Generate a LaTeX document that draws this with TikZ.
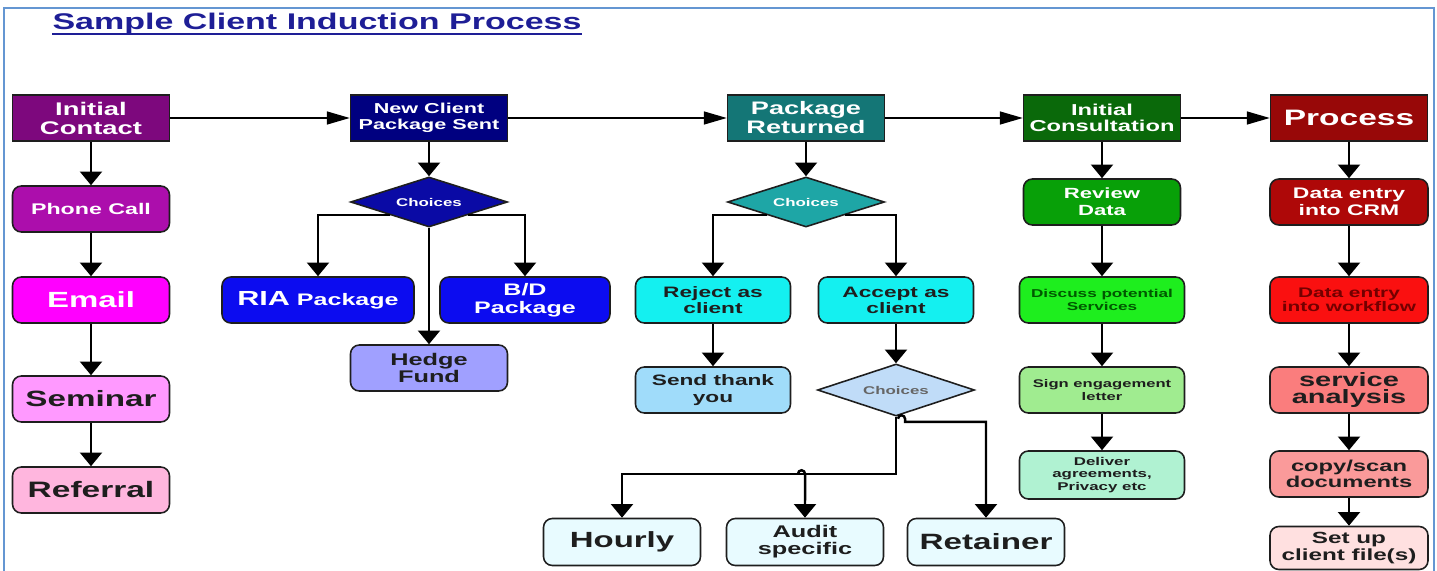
\documentclass[tikz,border=0pt]{standalone}
\usepackage{fontspec}
\setmainfont[FakeStretch=1.5]{Liberation Sans}
\usepackage{tikz}
\usetikzlibrary{arrows.meta, positioning, calc, shapes.geometric}

\definecolor{edge}{RGB}{30,30,30}
\definecolor{titleblue}{RGB}{30,30,150}
\definecolor{frameblue}{RGB}{100,150,210}
\definecolor{icfill}{RGB}{125,8,125}
\definecolor{phonefill}{RGB}{172,14,172}
\definecolor{emailfill}{RGB}{255,0,255}
\definecolor{semfill}{RGB}{255,153,255}
\definecolor{reffill}{RGB}{255,182,222}
\definecolor{ncpfill}{RGB}{0,0,128}
\definecolor{chAfill}{RGB}{10,10,165}
\definecolor{pkgfill}{RGB}{12,12,240}
\definecolor{hedgefill}{RGB}{160,160,255}
\definecolor{prfill}{RGB}{20,118,118}
\definecolor{chBfill}{RGB}{30,166,166}
\definecolor{cyanfill}{RGB}{20,240,240}
\definecolor{thankfill}{RGB}{160,220,250}
\definecolor{chCfill}{RGB}{192,220,248}
\definecolor{feefill}{RGB}{232,251,255}
\definecolor{consfill}{RGB}{10,105,10}
\definecolor{revfill}{RGB}{8,160,8}
\definecolor{discfill}{RGB}{30,238,30}
\definecolor{signfill}{RGB}{160,236,144}
\definecolor{delivfill}{RGB}{176,242,210}
\definecolor{procfill}{RGB}{152,8,8}
\definecolor{crmfill}{RGB}{174,8,8}
\definecolor{wffill}{RGB}{250,16,16}
\definecolor{svcfill}{RGB}{250,125,125}
\definecolor{copyfill}{RGB}{250,154,154}
\definecolor{setupfill}{RGB}{255,224,224}
\definecolor{darktxt}{RGB}{30,30,30}

\newcommand{\fsz}[2]{\fontsize{#1}{#2}\selectfont\bfseries}

\tikzset{
  hdr/.style={draw=edge, line width=0.9pt, inner sep=0pt, align=center, text=white,
    minimum width=3.14cm, minimum height=0.92cm},
  rbox/.style={hdr, rounded corners=5pt},
  choice/.style={diamond, draw=edge, line width=0.9pt, inner sep=0pt, aspect=3,
    minimum width=3.14cm, minimum height=1.0cm, font=\fsz{6.4}{7}, text=white},
  varr/.style={line width=1.4pt, -{Triangle[width=12.5pt,length=7.8pt]}},
  harr/.style={line width=0.75pt, -{Triangle[width=7.4pt,length=13pt]}},
}

\begin{document}
\begin{tikzpicture}[x=0.02cm, y=-0.02cm]
\useasboundingbox (0,0) rectangle (1437,571);
\draw[frameblue, line width=1.6pt] (4,600) -- (4,8) -- (1434,8) -- (1434,600);

\node[font=\fsz{12.9}{14}, text=titleblue, inner sep=0pt] (title) at (317,24) {Sample Client Induction Process};
\draw[titleblue, line width=1.1pt] ([yshift=-2.2pt]title.base west) -- ([yshift=-2.2pt]title.base east);

% column 1
\node[hdr, fill=icfill, font=\fsz{10.4}{10.8}] (ic) at (91,118) {Initial\\Contact};
\node[rbox, fill=phonefill, font=\fsz{8.8}{10}] (phone) at (91,209) {Phone Call};
\node[rbox, fill=emailfill, font=\fsz{12.5}{13}] (email) at (91,300) {Email};
\node[rbox, fill=semfill, text=darktxt, font=\fsz{12.6}{13}] (sem) at (91,399) {Seminar};
\node[rbox, fill=reffill, text=darktxt, font=\fsz{12.7}{13}] (ref) at (91,490) {Referral};

% column 2
\node[hdr, fill=ncpfill, font=\fsz{8.2}{9}] (ncp) at (429,118) {New Client\\Package Sent};
\node[choice, fill=chAfill] (chA) at (429,202) {Choices};
\node[rbox, fill=pkgfill, minimum width=3.84cm, font=\fsz{9.5}{10}] (ria) at (318,300) {{\fontsize{11.6}{12}\selectfont RIA} Package};
\node[rbox, fill=pkgfill, minimum width=3.4cm, font=\fsz{9.5}{10.2}] (bd) at (525,300) {B/D\\Package};
\node[rbox, fill=hedgefill, text=darktxt, font=\fsz{9.6}{10.2}] (hedge) at (429,368) {Hedge\\Fund};

% column 3
\node[hdr, fill=prfill, font=\fsz{10.3}{10.8}] (pr) at (806,118) {Package\\Returned};
\node[choice, fill=chBfill] (chB) at (806,202) {Choices};
\node[rbox, fill=cyanfill, text=darktxt, minimum width=3.1cm, font=\fsz{8.6}{9.2}] (rej) at (713,300) {Reject as\\client};
\node[rbox, fill=cyanfill, text=darktxt, minimum width=3.1cm, font=\fsz{8.6}{9.2}] (acc) at (896,300) {Accept as\\client};
\node[rbox, fill=thankfill, text=darktxt, minimum width=3.1cm, font=\fsz{8.6}{9.6}] (thank) at (713,390) {Send thank\\you};
\node[choice, fill=chCfill, text=gray!80!black, minimum height=1.04cm] (chC) at (896,390) {Choices};
\node[rbox, fill=feefill, text=darktxt, minimum height=0.94cm, font=\fsz{12.5}{13}] (hour) at (622,542) {Hourly};
\node[rbox, fill=feefill, text=darktxt, minimum height=0.94cm, font=\fsz{9.6}{9.6}] (aud) at (805,542) {Audit\\specific};
\node[rbox, fill=feefill, text=darktxt, minimum height=0.94cm, font=\fsz{12.6}{13}] (ret) at (986,542) {Retainer};

% column 4
\node[hdr, fill=consfill, font=\fsz{9}{9}] (cons) at (1102,118) {Initial\\Consultation};
\node[rbox, fill=revfill, font=\fsz{8.4}{9.6}] (rev) at (1102,202) {Review\\Data};
\node[rbox, fill=discfill, text=green!35!black, minimum width=3.3cm, font=\fsz{6.5}{7.4}] (disc) at (1102,300) {Discuss potential\\Services};
\node[rbox, fill=signfill, text=darktxt, minimum width=3.3cm, font=\fsz{6.3}{7.4}] (sign) at (1102,390) {Sign engagement\\letter};
\node[rbox, fill=delivfill, text=darktxt, minimum width=3.3cm, minimum height=0.96cm, font=\fsz{6.4}{7.1}] (deliv) at (1102,475) {Deliver\\agreements,\\Privacy etc};

% column 5
\node[hdr, fill=procfill, font=\fsz{12.7}{13}] (proc) at (1349,118) {Process};
\node[rbox, fill=crmfill, minimum width=3.16cm, font=\fsz{8.7}{9.6}] (crm) at (1349,202) {Data entry\\into CRM};
\node[rbox, fill=wffill, text=red!45!black, minimum width=3.16cm, font=\fsz{7.9}{8}] (wf) at (1349,300) {Data entry\\into workflow};
\node[rbox, fill=svcfill, text=darktxt, minimum width=3.16cm, font=\fsz{11}{9.6}] (svc) at (1349,390) {service\\analysis};
\node[rbox, fill=copyfill, text=darktxt, minimum width=3.16cm, font=\fsz{9}{9}] (copy) at (1349,474) {copy/scan\\documents};
\node[rbox, fill=setupfill, text=darktxt, minimum width=3.16cm, minimum height=0.86cm, font=\fsz{9.2}{9.6}] (setup) at (1349,548) {Set up\\client file(s)};

% main flow
\draw[harr] (ic) -- (ncp);
\draw[harr] (ncp) -- (pr);
\draw[harr] (pr) -- (cons);
\draw[harr] (cons) -- (proc);

\draw[varr] (ic) -- (phone);
\draw[varr] (phone) -- (email);
\draw[varr] (email) -- (sem);
\draw[varr] (sem) -- (ref);

\draw[varr] (ncp) -- (chA);
\draw[varr] (chA.199) -| (ria.north);
\draw[varr] (chA.-19) -| (bd.north);
\draw[varr] (chA) -- (hedge);

\draw[varr] (pr) -- (chB);
\draw[varr] (chB.199) -| (rej.north);
\draw[varr] (chB.-19) -| (acc.north);
\draw[varr] (rej) -- (thank);
\draw[varr] (acc) -- (chC);
\draw[varr] (chC.south) -- ++(0,57) coordinate (jn) -| (hour.north);
\draw[varr] ($(aud.north |- jn)+(-7,0)$) arc[start angle=180, end angle=0, radius=2pt] -- (aud.north);
\draw[varr] ($(chC.south)+(2,2)$) arc[start angle=180, end angle=0, radius=2pt] -- ++(0,3) -| (ret.north);

\draw[varr] (cons) -- (rev);
\draw[varr] (rev) -- (disc);
\draw[varr] (disc) -- (sign);
\draw[varr] (sign) -- (deliv);

\draw[varr] (proc) -- (crm);
\draw[varr] (crm) -- (wf);
\draw[varr] (wf) -- (svc);
\draw[varr] (svc) -- (copy);
\draw[varr] (copy) -- (setup);
\end{tikzpicture}
\end{document}
